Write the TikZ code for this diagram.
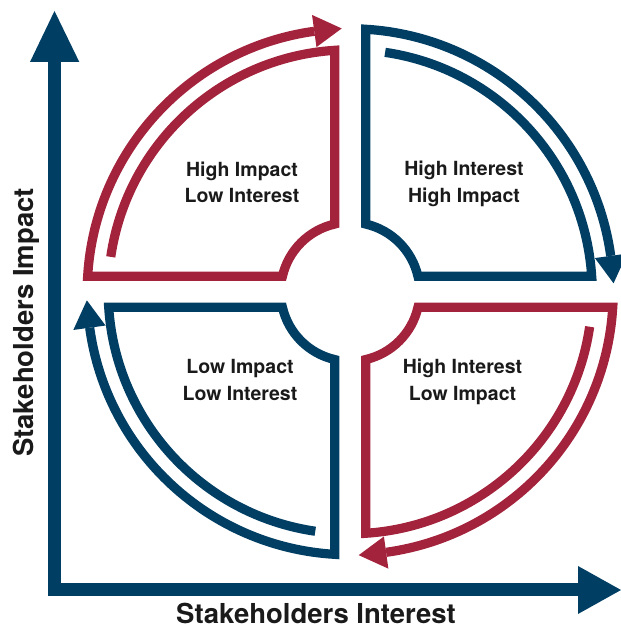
\documentclass[tikz,border=0pt]{standalone}
\usepackage{fontspec}
\setmainfont{TeX Gyre Heros}
\definecolor{navy}{HTML}{003E64}
\definecolor{crimson}{HTML}{A4233C}
\definecolor{ink}{HTML}{1A1A1A}
\newcommand\quadpetal[2]{%
  \begin{scope}[shift={(350.2,338.2)}, rotate=#1]
    \draw[band, draw=#2] (171.7:242) arc[start angle=171.7, end angle=93.67, radius=242]
      -- (-15.5,67.75) arc[start angle=102.88, end angle=167.12, radius=69.5]
      -- (-262.54,15.5) arc[start angle=176.62, end angle=97.85, radius=263];
    \fill[#2] (97.85:279.5) -- (91.85:263.5) -- (97.85:247) -- cycle;
  \end{scope}}
\begin{document}
\begin{tikzpicture}[x=1pt,y=1pt,
  band/.style={line width=9.2pt, line join=miter, line cap=butt},
  axisline/.style={draw=navy, line width=12.5pt, line join=miter},
  qlabel/.style={font=\fontsize{19.5}{23}\selectfont\bfseries, anchor=base, inner sep=0pt, text=ink},
  alabel/.style={font=\fontsize{27.5}{32}\selectfont\bfseries, anchor=base, inner sep=0pt, text=ink}
]
\useasboundingbox (0,0) rectangle (621,630);
% axes
\coordinate (ytop) at (54.5,568);
\coordinate (corner) at (54.5,40.3);
\coordinate (xend) at (578,40.3);
\draw[axisline] (ytop) -- (corner) -- (xend);
\fill[navy] (30,568) -- (54.5,619) -- (79.3,568) -- cycle;
\fill[navy] (578,64) -- (621,40) -- (578,16) -- cycle;
% petals
\quadpetal{0}{crimson}
\quadpetal{-90}{navy}
\quadpetal{180}{crimson}
\quadpetal{90}{navy}
% labels
\node[qlabel] (tl1) at (242,453) {High Impact};
\node[qlabel] (tl2) at (242,427) {Low Interest};
\node[qlabel] (tr1) at (464,454) {High Interest};
\node[qlabel] (tr2) at (464,427) {High Impact};
\node[qlabel] (bl1) at (240,256) {Low Impact};
\node[qlabel] (bl2) at (240,229) {Low Interest};
\node[qlabel] (br1) at (462.5,256) {High Interest};
\node[qlabel] (br2) at (462.5,229) {Low Impact};
\node[alabel] (xlab) at (316,6.5) {Stakeholders Interest};
\node[alabel, rotate=90] (ylab) at (33.3,307.5) {Stakeholders Impact};
\end{tikzpicture}
\end{document}
